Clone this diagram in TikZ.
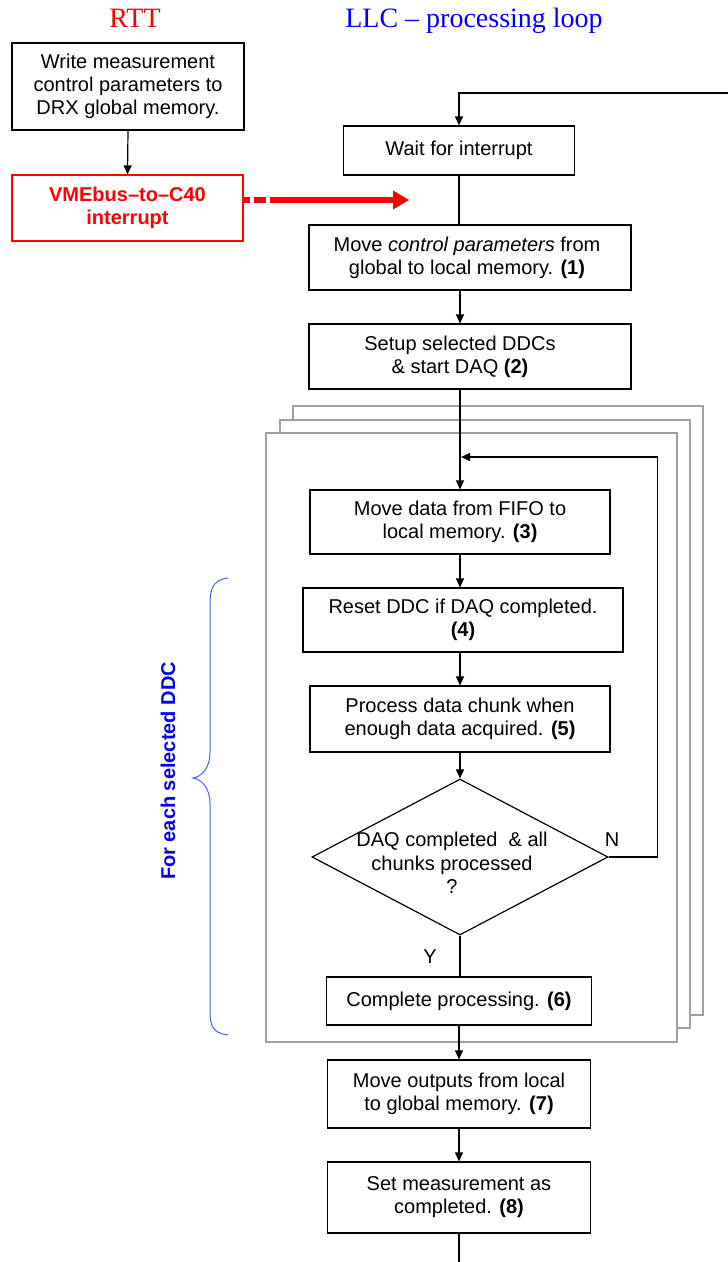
\documentclass[tikz,border=0pt]{standalone}
\usepackage{fontspec}
\setmainfont{Liberation Sans}
\newfontfamily\titlefont{Liberation Serif}
\usetikzlibrary{arrows.meta,shapes.geometric,calc}

\definecolor{framegray}{HTML}{A0A0A0}
\definecolor{bracecol}{HTML}{3A66FF}
\definecolor{labelblue}{HTML}{0000F0}

\tikzset{
  flowbox/.style={draw, line width=1.2pt, align=center, inner sep=0pt,
    font=\fontsize{20}{23}\selectfont},
  irqbox/.style={flowbox, draw=red, text=red, font=\fontsize{20}{23}\selectfont\bfseries},
  decision/.style={draw, diamond, line width=1.2pt, inner sep=0pt,
    minimum width=296pt, minimum height=156pt},
  plaintext/.style={inner sep=0pt, align=center, font=\fontsize{20}{23.5}\selectfont},
  boxtext/.style={inner sep=0pt, align=center, font=\fontsize{20}{23}\selectfont},
  heading/.style={inner sep=0pt, anchor=base, font=\titlefont\fontsize{28}{30}\selectfont},
  arrowline/.style={line width=1.2pt, -{Triangle[length=9pt,width=8pt]}},
  plainline/.style={line width=1.2pt},
  stackframe/.style={draw=framegray, line width=2.2pt, fill=white},
  irqarrow/.style={red, line width=6pt,
    dash pattern=on 6pt off 4pt on 12pt off 4pt on 400pt,
    -{Triangle[length=16pt,width=18pt]}}
}

\begin{document}
\begin{tikzpicture}[x=1pt,y=-1pt]
\path[use as bounding box, fill=white] (0,0) rectangle (728,1262);

% column headings
\node[heading, text=red] (rtt) at (135,27) {RTT};
\node[heading, text=blue] (llc) at (474,27) {LLC – processing loop};

% RTT side
\node[flowbox, minimum width=232pt, minimum height=87pt] (write) at (128,86.5)
  {Write measurement\\control parameters to\\DRX global memory.};
\node[irqbox, minimum width=231pt, minimum height=66pt] (vme) at (127.5,208)
  {VMEbus–to–C40\\interrupt};
\draw[arrowline] (write.south) -- (vme.north);

% stacked per-DDC frames (back to front)
\draw[stackframe] (293,406) rectangle (703,1015);
\draw[stackframe] (280,420) rectangle (690,1028);
\draw[stackframe] (266,433) rectangle (677,1042);

% LLC processing loop
\node[flowbox, minimum width=231pt, minimum height=49pt] (wait) at (459,150.5)
  {Wait for interrupt};
\node[flowbox, minimum width=322pt, minimum height=65pt] (move1) at (470,257.5) {};
\node[boxtext] (move1text) at (467,257.5)
  {Move \textit{control parameters} from\\global to local memory. \textbf{(1)}};
\node[flowbox, minimum width=322pt, minimum height=65pt] (setup) at (470,356.5) {};
\node[boxtext] (setuptext) at (460,356.5)
  {Setup selected DDCs\\\& start DAQ \textbf{(2)}};
\node[flowbox, minimum width=300pt, minimum height=64pt] (move3) at (460,522)
  {Move data from FIFO to\\local memory. \textbf{(3)}};
\node[flowbox, minimum width=320pt, minimum height=64pt] (reset) at (463,620)
  {Reset DDC if DAQ completed.\\\textbf{(4)}};
\node[flowbox, minimum width=300pt, minimum height=66pt] (process) at (460,719)
  {Process data chunk when\\enough data acquired. \textbf{(5)}};
\node[decision] (dec) at (460,857) {};
\node[plaintext] (dectext) at (452,863) {DAQ completed\ \ \& all\\chunks processed\\?};
\node[flowbox, minimum width=265pt, minimum height=48pt] (complete) at (459,1001)
  {Complete processing. \textbf{(6)}};
\node[flowbox, minimum width=263pt, minimum height=68pt] (moveout) at (459,1094)
  {Move outputs from local\\to global memory. \textbf{(7)}};
\node[flowbox, minimum width=263pt, minimum height=71pt] (setmeas) at (459,1197.5)
  {Set measurement as\\completed. \textbf{(8)}};

\node[plaintext] (nlabel) at (612,840) {N};
\node[plaintext] (ylabel) at (430,957) {Y};

% connectors
\coordinate (loopin) at (728,93);
\coordinate (irqtip) at (409,200);
\coordinate (join) at (461,457);
\coordinate (exit) at (459,1262);

\draw[arrowline] (loopin) -| (wait.north);
\draw[irqarrow] ($(vme.east)+(0,-8)$) -- (irqtip);
\draw[plainline] (wait.south) -- (move1.north -| wait.south);
\draw[arrowline] (move1.south -| move3.north) -- (setup.north -| move3.north);
\draw[arrowline] (setup.south -| move3.north) -- (move3.north);
\draw[arrowline] (move3.south) -- (reset.north -| move3.south);
\draw[arrowline] (reset.south -| move3.south) -- (process.north);
\draw[arrowline] (process.south) -- (dec.north);
\draw[arrowline] (dec.east) -- ++(49,0) |- (join);
\draw[plainline] (dec.south) -- (complete.north -| dec.south);
\draw[arrowline] (complete.south) -- (moveout.north);
\draw[arrowline] (moveout.south) -- (setmeas.north);
\draw[plainline] (setmeas.south) -- (exit);

% brace spanning the per-DDC steps
\draw[bracecol, line width=1pt] (228,578) .. controls (212,580) and (210,590) .. (210,605)
  -- (210,752) .. controls (210,770) and (200,777) .. (193,778)
  .. controls (200,779) and (210,786) .. (210,804)
  -- (210,1010) .. controls (210,1025) and (212,1033) .. (228,1035);
\node[rotate=90, inner sep=0pt, text=labelblue, font=\fontsize{20}{23}\selectfont\bfseries]
  (foreach) at (168,771) {For each selected DDC};
\end{tikzpicture}
\end{document}
